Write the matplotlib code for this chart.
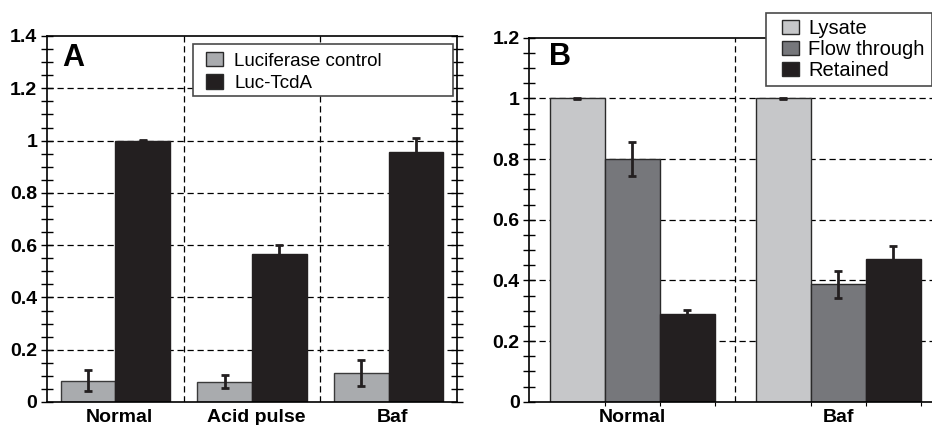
import matplotlib
matplotlib.use('Agg')
import matplotlib.pyplot as plt
from matplotlib.patches import Rectangle
import numpy as np

plt.rcParams['font.family'] = ['Liberation Sans', 'DejaVu Sans']

#### data, panel A
cats_a = ['Normal', 'Acid pulse', 'Baf']
luc_ctrl = [0.082, 0.078, 0.112]
luc_ctrl_err = [0.041, 0.026, 0.050]
luc_tcda = [1.0, 0.565, 0.958]
luc_tcda_err = [0.003, 0.035, 0.053]

#### data, panel B
cats_b = ['Normal', 'Baf']
lysate = [1.0, 1.0]
lysate_err = [0.002, 0.002]
flow = [0.800, 0.387]
flow_err = [0.057, 0.045]
retained = [0.288, 0.471]
retained_err = [0.015, 0.042]

c_light = '#c6c7c9'
c_mid = '#a9abae'
c_dark = '#76777b'
c_black = '#231f20'

W, H = 932, 425
fig = plt.figure(figsize=(W/100, H/100), dpi=100)

def style_axes(ax, ymax, ncat):
    ax.set_xlim(0, ncat)
    ax.set_ylim(0, ymax)
    ax.set_yticks(np.arange(0, ymax + 0.001, 0.2))
    ax.set_yticks(np.arange(0, ymax + 0.001, 0.05), minor=True)
    ax.set_yticklabels(['0' if v == 0 else ('1' if abs(v - 1) < 1e-9 else '%.1f' % v)
                        for v in np.arange(0, ymax + 0.001, 0.2)])
    ax.tick_params(axis='y', which='both', direction='inout', length=8, width=1,
                   right=True, labelsize=14, pad=3)
    ax.tick_params(axis='x', which='major', length=0, labelsize=14, pad=5)
    for lab in ax.get_yticklabels() + ax.get_xticklabels():
        lab.set_fontweight('bold')
    for s in ax.spines.values():
        s.set_linewidth(1.2)
    ax.set_axisbelow(True)
    for y in np.arange(0.2, ymax - 0.001, 0.2):
        ax.axhline(y, color='black', lw=0.9, ls=(0, (5, 3)), zorder=0)
    for x in range(1, ncat):
        ax.axvline(x, color='black', lw=0.9, ls=(0, (5, 3)), zorder=0)

def legend_box(ax, x0, y0, x1, y1):
    # frame given in figure pixels (y from top), kept under the legend entries
    r = Rectangle((x0/W, 1 - y1/H), (x1 - x0)/W, (y1 - y0)/H, transform=fig.transFigure,
                  facecolor='white', edgecolor='#4a4a4a', lw=1.2, zorder=5, clip_on=False)
    ax.add_artist(r)

ekw = dict(ecolor=c_black, elinewidth=2, capsize=3, capthick=2)

########## Panel A
axA = fig.add_axes([47/W, 23/H, 410/W, 366/H])
xa = np.arange(len(cats_a))
w = 0.4
axA.bar(xa + 0.1 + w/2, luc_ctrl, w, yerr=luc_ctrl_err, color=c_mid,
        edgecolor='#3a3a3a', lw=1, error_kw=ekw, label='Luciferase control', zorder=2)
axA.bar(xa + 0.5 + w/2, luc_tcda, w, yerr=luc_tcda_err, color=c_black,
        edgecolor=c_black, lw=1, error_kw=ekw, label='Luc-TcdA', zorder=2)
style_axes(axA, 1.4, 3)
axA.set_xticks(xa + 0.53)
axA.set_xticklabels(cats_a, fontweight='bold')
axA.text(0.115, 1.316, 'A', fontsize=22, fontweight='bold', va='center')
legend_box(axA, 193, 44, 453, 96)
legA = axA.legend(loc='upper left', bbox_to_anchor=(206/W, 1 - 52/H),
                  bbox_transform=fig.transFigure, fontsize=13.5, frameon=False,
                  borderpad=0, handlelength=0.9, handleheight=0.8, handletextpad=0.6,
                  labelspacing=0.25, borderaxespad=0)
legA.set_zorder(6)
for p in legA.get_patches():
    p.set_edgecolor('#2a2a2a')

########## Panel B
axB = fig.add_axes([529.3/W, 23.3/H, 412/W, 364/H])
xb = np.arange(len(cats_b))
wb = 0.8 / 3
axB.bar(xb + 0.1 + wb/2, lysate, wb, yerr=lysate_err, color=c_light,
        edgecolor='#2a2a2a', lw=1, error_kw=ekw, label='Lysate', zorder=2)
axB.bar(xb + 0.1 + 1.5*wb, flow, wb, yerr=flow_err, color=c_dark,
        edgecolor='#2a2a2a', lw=1, error_kw=ekw, label='Flow through', zorder=2)
axB.bar(xb + 0.1 + 2.5*wb, retained, wb, yerr=retained_err, color=c_black,
        edgecolor=c_black, lw=1, error_kw=ekw, label='Retained', zorder=2)
style_axes(axB, 1.2, 2)
axB.set_xticks(xb + 0.5)
axB.set_xticklabels(cats_b, fontweight='bold')
edges = np.concatenate([xb + 0.1 + k*wb for k in (1, 2, 3)])
axB.set_xticks(edges, minor=True)
axB.tick_params(axis='x', which='minor', direction='out', length=3, width=0.8)
axB.text(0.096, 1.135, 'B', fontsize=22, fontweight='bold', va='center')
legend_box(axB, 766, 13, 932, 86)
legB = axB.legend(loc='upper left', bbox_to_anchor=(782/W, 1 - 19/H),
                  bbox_transform=fig.transFigure, fontsize=14.5, frameon=False,
                  borderpad=0, handlelength=0.85, handleheight=0.75, handletextpad=0.45,
                  labelspacing=0.1, borderaxespad=0)
legB.set_zorder(6)
for p in legB.get_patches():
    p.set_edgecolor('#2a2a2a')

fig.savefig('out.png', dpi=100)
